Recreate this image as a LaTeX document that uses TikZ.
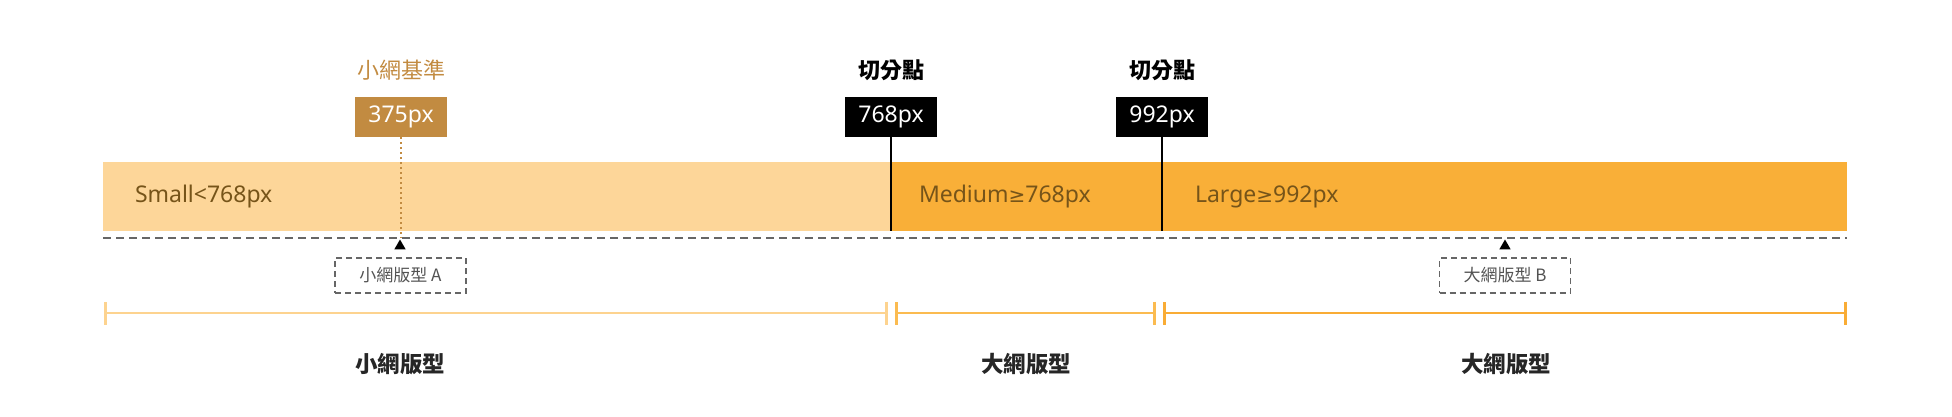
\documentclass[tikz,border=0pt]{standalone}
\usepackage{fontspec}
\setmainfont{Noto Sans CJK TC}
\newfontfamily\latinfont{Noto Sans}
\newfontfamily\symfont{DejaVu Sans}
\newcommand{\gesym}{{\symfont\fontsize{20}{20}\selectfont ≥}}
\usetikzlibrary{arrows.meta,shapes.geometric}
\definecolor{lightbar}{HTML}{FDD699}
\definecolor{medbar}{HTML}{F9AF38}
\definecolor{brownbox}{HTML}{C28B41}
\definecolor{textbrown}{HTML}{765419}
\definecolor{lineL}{HTML}{FDD38F}
\definecolor{lineM}{HTML}{FBBB50}
\definecolor{lineR}{HTML}{F9AC35}
\definecolor{dashgray}{HTML}{666666}
\tikzset{
  every node/.style={inner sep=0pt, outer sep=0pt},
  barbox/.style={minimum height=69pt, anchor=north west},
  bartext/.style={anchor=west, text=textbrown, font=\latinfont\fontsize{23}{23}\selectfont},
  valbox/.style={minimum width=92pt, minimum height=40pt, text=white, font=\latinfont\fontsize{23}{23}\selectfont},
  toplabel/.style={font=\fontsize{22}{22}\selectfont},
  cutlabel/.style={font=\fontsize{22}{22}\selectfont\bfseries},
  cutline/.style={draw=black, line width=1.6pt},
  tri/.style={regular polygon, regular polygon sides=3, fill=black, minimum size=13pt},
  layoutbox/.style={draw=dashgray, line width=1.2pt, dash pattern=on 6pt off 4pt, minimum width=131pt, minimum height=35pt, text=dashgray!80!black, font=\fontsize{17}{17}\selectfont},
  rangeline/.style={line width=2.6pt, {Bar[width=23pt,line width=2.6pt]}-{Bar[width=23pt,line width=2.6pt]}},
  bottomlabel/.style={font=\fontsize{22.5}{22.5}\selectfont\bfseries, text=black!85}
}
\begin{document}
\begin{tikzpicture}[x=1pt,y=-1pt]
\useasboundingbox (0,0) rectangle (1952,416);
% bars
\node[barbox, fill=lightbar, minimum width=788pt] (barS) at (103,162) {};
\node[barbox, fill=medbar, minimum width=956pt] (barL) at (891,162) {};
\node[bartext] (tS) at (135,197) {Small<768px};
\node[bartext] (tM) at (919,197) {Medium\gesym768px};
\node[bartext] (tL) at (1195,197) {Large\gesym992px};
% top labels and value boxes
\node[toplabel, text=brownbox] (l375) at (401,70) {小網基準};
\node[valbox, fill=brownbox] (b375) at (401,117) {375px};
\node[cutlabel] (l768) at (891,70) {切分點};
\node[valbox, fill=black] (b768) at (891,117) {768px};
\node[cutlabel] (l992) at (1162,70) {切分點};
\node[valbox, fill=black] (b992) at (1162,117) {992px};
% dashed baseline
\coordinate (dL) at (103,238);
\coordinate (dR) at (1847,238);
\draw[dashgray, line width=1.5pt, dash pattern=on 8pt off 5pt] (dL) -- (dR);
% connectors from boxes
\coordinate (c375) at (401,238);
\coordinate (c768) at (891,231);
\coordinate (c992) at (1162,231);
\draw[brownbox, line width=2pt, dash pattern=on 2pt off 3pt] (b375.south) -- (c375);
\draw[cutline] (b768.south) -- (c768);
\draw[cutline] (b992.south) -- (c992);
% markers and layout boxes
\node[tri] (triA) at (400,246) {};
\node[tri] (triB) at (1505,246) {};
\node[layoutbox] (boxA) at (400.5,275.5) {小網版型 A};
\node[layoutbox] (boxB) at (1505,275.5) {大網版型 B};
% range line
\coordinate (r0) at (104,313);
\coordinate (r1) at (888,313);
\coordinate (r2) at (895,313);
\coordinate (r3) at (1156,313);
\coordinate (r4) at (1163,313);
\coordinate (r5) at (1847,313);
\draw[rangeline, lineL] (r0) -- (r1);
\draw[rangeline, lineM] (r2) -- (r3);
\draw[rangeline, lineR] (r4) -- (r5);
% bottom labels
\node[bottomlabel] (g1) at (400,364) {小網版型};
\node[bottomlabel] (g2) at (1026,364) {大網版型};
\node[bottomlabel] (g3) at (1506,364) {大網版型};
\end{tikzpicture}
\end{document}
